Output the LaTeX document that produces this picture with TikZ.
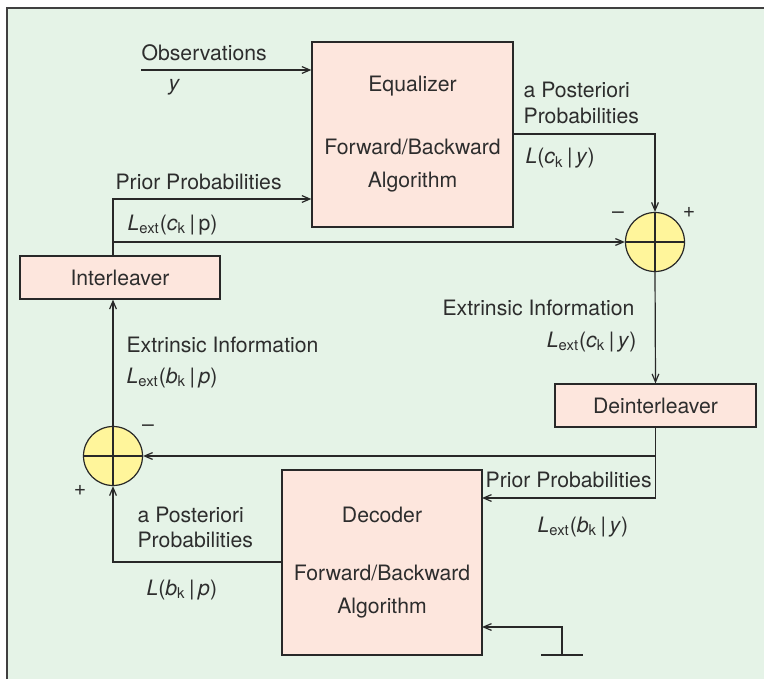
\documentclass[tikz,border=0pt]{standalone}
\usepackage{fontspec}
\setmainfont{TeX Gyre Heros}
\usetikzlibrary{arrows.meta}
\definecolor{fondo}{RGB}{229,243,231}
\definecolor{rosa}{RGB}{253,230,221}
\definecolor{amarillo}{RGB}{255,245,155}
\definecolor{linea}{RGB}{40,40,40}
\definecolor{texto}{RGB}{45,45,45}
\newcommand{\fuente}{\fontsize{10.6pt}{16.5pt}\selectfont}
\newcommand{\Lext}{\textit{L}\textsubscript{ext}}
\newcommand{\barra}{\,|\,}

\begin{document}
\begin{tikzpicture}[x=0.5pt,y=-0.5pt,line width=0.6pt,font=\fuente,>={Straight Barb[length=4pt,width=3.4pt]},
  caja/.style={draw=linea,fill=rosa,inner sep=0pt,align=center,text=texto},
  suma/.style={circle,draw=linea,fill=amarillo,minimum size=29.5pt,inner sep=0pt},
  etq/.style={inner sep=0pt,anchor=base west,text=texto}]
  \useasboundingbox (0,0) rectangle (764,679);
  % fondo
  \fill[fondo] (7,8) rectangle (764,679);
  \draw[line width=1.2pt,black!75] (7,679)--(7,8)--(764,8);
  % bloques
  \node[caja,minimum width=100.5pt,minimum height=92.5pt] (eq) at (412.5,134.5) {Equalizer\\[15pt]Forward/Backward\\Algorithm};
  \node[caja,minimum width=100pt,minimum height=92.5pt] (dec) at (382,562.5) {Decoder\\[12.5pt]Forward/Backward\\Algorithm};
  \node[caja,minimum width=100pt,minimum height=21.5pt] (il) at (120,277.5) {Interleaver};
  \node[caja,minimum width=100.5pt,minimum height=21.5pt] (dil) at (655.5,405.5) {Deinterleaver};
  % sumadores
  \node[suma] (s1) at (655,242) {};
  \node[suma] (s2) at (113,456) {};
  \draw[linea] (s1.north)--(s1.south) (s1.west)--(s1.east);
  \draw[linea] (s2.north)--(s2.south) (s2.west)--(s2.east);
  \node[text=texto] (s1m) at (618,215) {–}; \node[text=texto] (s1p) at (689,212) {+};
  \node[text=texto] (s2m) at (148,428) {–}; \node[text=texto] (s2p) at (80,490) {+};
  % puntos
  \coordinate (obs) at (141,70);
  \coordinate (ilo) at (113,256);
  \coordinate (pri) at (113,199);
  \coordinate (eqo) at (513,134);
  \coordinate (deci) at (482,498);
  \coordinate (deco) at (282,562);
  \coordinate (gnd) at (562,655);
  \coordinate (deci2) at (482,627);
  % conexiones
  \draw[->,linea] (obs) -- (obs -| eq.west);
  \draw[->,linea] (ilo) -- (pri) -- (pri -| eq.west);
  \draw[->,linea] (ilo |- s1.west) -- (s1.west);
  \draw[->,linea] (eqo) -| (s1.north);
  \draw[->,linea] (s1.south) -- (dil.north);
  \draw[->,linea] (dil.south) |- (deci);
  \draw[->,linea] (dil.south |- s2.east) -- (s2.east);
  \draw[->,linea] (deco) -| (s2.south);
  \draw[->,linea] (s2.north) -- (s2.north |- il.south);
  \draw[->,linea] (gnd) |- (deci2);
  \draw[linea] ([xshift=-10.5pt]gnd) -- ([xshift=10.5pt]gnd);
  % textos
  \node[etq] (t1) at (141,61) {Observations};
  \node[etq] (t2) at (168,90.5) {\textit{y}};
  \node[etq] (t3) at (115,190) {Prior Probabilities};
  \node[etq] (t4) at (127,230) {\Lext(\textit{c}\textsubscript{k}\barra p)};
  \node[etq] (t5) at (523,98) {a Posteriori};
  \node[etq] (t6) at (523,124) {Probabilities};
  \node[etq] (t7) at (525,164) {\textit{L}(\textit{c}\textsubscript{k}\barra\textit{y})};
  \node[etq,anchor=base east] (t8) at (635,315) {Extrinsic Information};
  \node[etq,anchor=base east] (t9) at (637,347) {\Lext(\textit{c}\textsubscript{k}\barra\textit{y})};
  \node[etq] (t10) at (126,352) {Extrinsic Information};
  \node[etq] (t11) at (126,383) {\Lext(\textit{b}\textsubscript{k}\barra\textit{p})};
  \node[etq] (t12) at (485,487) {Prior Probabilities};
  \node[etq] (t13) at (537,532) {\Lext(\textit{b}\textsubscript{k}\barra\textit{y})};
  \node[etq] (t14) at (137,522) {a Posteriori};
  \node[etq] (t15) at (137,547) {Probabilities};
  \node[etq] (t16) at (146,595) {\textit{L}(\textit{b}\textsubscript{k}\barra\textit{p})};
\end{tikzpicture}
\end{document}
